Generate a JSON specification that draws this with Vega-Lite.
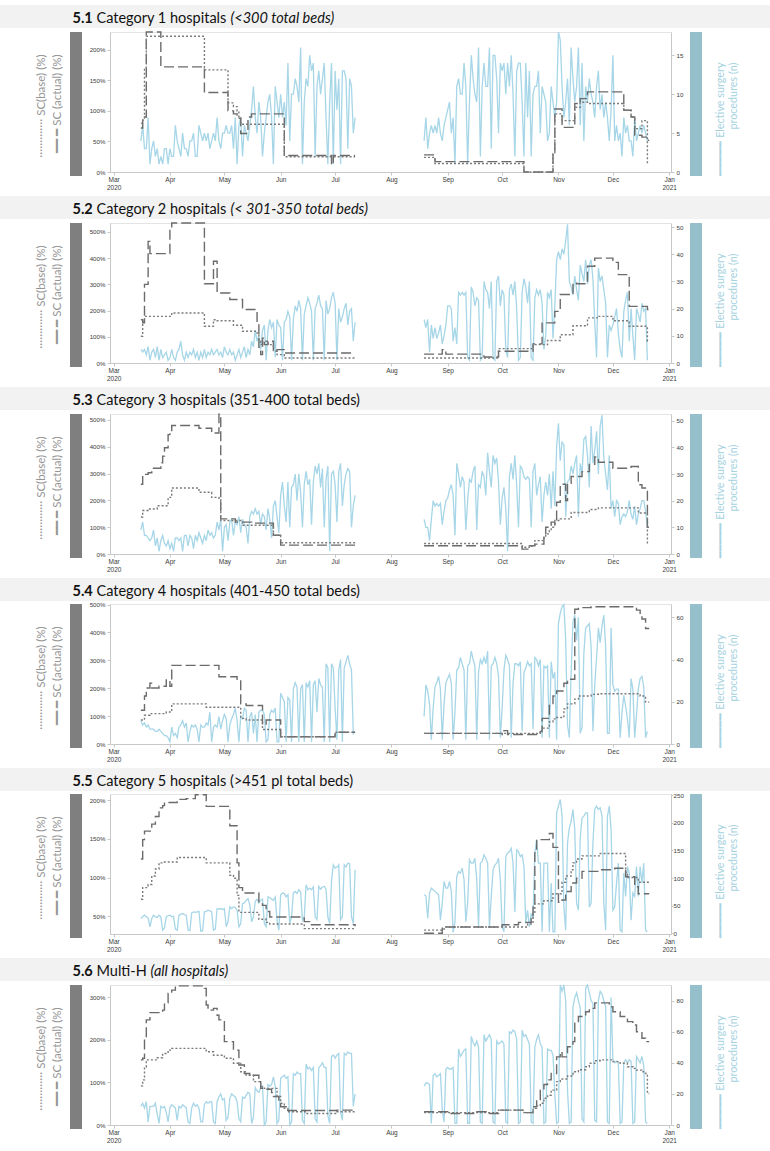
{
"$schema": "https://vega.github.io/schema/vega-lite/v6.json",
"background": "white",
"padding": {"left": 0, "top": 5, "right": 0, "bottom": 0},
"spacing": 5,
"config": {
  "view": {"stroke": null},
  "axis": {"grid": false, "labelFont": "Liberation Sans", "labelFontSize": 6.2, "labelColor": "#3c3c3c", "domainColor": "#c8c8c8", "tickColor": "#c8c8c8", "tickSize": 3, "labelPadding": 2},
  "line": {"strokeWidth": 1.4}
},
"datasets": {
"daily": [
{"d":"2020-03-16","s":1,"n1":4,"n2":5,"n3":9,"n4":11,"n5":27,"n6":12},
{"d":"2020-03-17","s":1,"n1":6,"n2":4,"n3":12,"n4":9,"n5":30,"n6":14},
{"d":"2020-03-18","s":1,"n1":3,"n2":5,"n3":7,"n4":10,"n5":33,"n6":11},
{"d":"2020-03-19","s":1,"n1":3,"n2":3,"n3":7,"n4":8,"n5":30,"n6":15},
{"d":"2020-03-20","s":1,"n1":7,"n2":6,"n3":6,"n4":9,"n5":28,"n6":2},
{"d":"2020-03-21","s":1,"n1":1,"n2":1,"n3":5,"n4":7,"n5":12,"n6":12},
{"d":"2020-03-22","s":1,"n1":3,"n2":4,"n3":6,"n4":7,"n5":27,"n6":12},
{"d":"2020-03-23","s":1,"n1":4,"n2":5,"n3":9,"n4":7,"n5":33,"n6":12},
{"d":"2020-03-24","s":1,"n1":2,"n2":2,"n3":3,"n4":6,"n5":30,"n6":14},
{"d":"2020-03-25","s":1,"n1":3,"n2":6,"n3":6,"n4":6,"n5":29,"n6":7},
{"d":"2020-03-26","s":1,"n1":1,"n2":1,"n3":1,"n4":7,"n5":33,"n6":1},
{"d":"2020-03-27","s":1,"n1":2,"n2":5,"n3":5,"n4":6,"n5":30,"n6":12},
{"d":"2020-03-28","s":1,"n1":1,"n2":2,"n3":7,"n4":5,"n5":6,"n6":11},
{"d":"2020-03-29","s":1,"n1":3,"n2":3,"n3":4,"n4":4,"n5":10,"n6":12},
{"d":"2020-03-30","s":1,"n1":3,"n2":4,"n3":3,"n4":4,"n5":30,"n6":8},
{"d":"2020-03-31","s":1,"n1":1,"n2":1,"n3":5,"n4":3,"n5":32,"n6":2},
{"d":"2020-04-01","s":1,"n1":3,"n2":2,"n3":2,"n4":1,"n5":33,"n6":11},
{"d":"2020-04-02","s":1,"n1":2,"n2":5,"n3":4,"n4":8,"n5":30,"n6":13},
{"d":"2020-04-03","s":1,"n1":2,"n2":2,"n3":1,"n4":4,"n5":31,"n6":12},
{"d":"2020-04-04","s":1,"n1":6,"n2":1,"n3":6,"n4":5,"n5":8,"n6":11},
{"d":"2020-04-05","s":1,"n1":4,"n2":4,"n3":6,"n4":3,"n5":6,"n6":3},
{"d":"2020-04-06","s":1,"n1":3,"n2":5,"n3":5,"n4":8,"n5":33,"n6":12},
{"d":"2020-04-07","s":1,"n1":2,"n2":8,"n3":6,"n4":9,"n5":35,"n6":11},
{"d":"2020-04-08","s":1,"n1":5,"n2":3,"n3":1,"n4":11,"n5":36,"n6":13},
{"d":"2020-04-09","s":1,"n1":3,"n2":1,"n3":7,"n4":8,"n5":34,"n6":12},
{"d":"2020-04-10","s":1,"n1":3,"n2":4,"n3":7,"n4":10,"n5":33,"n6":11},
{"d":"2020-04-11","s":1,"n1":2,"n2":2,"n3":3,"n4":1,"n5":6,"n6":2},
{"d":"2020-04-12","s":1,"n1":4,"n2":4,"n3":7,"n4":6,"n5":5,"n6":1},
{"d":"2020-04-13","s":1,"n1":4,"n2":3,"n3":6,"n4":9,"n5":37,"n6":11},
{"d":"2020-04-14","s":1,"n1":5,"n2":5,"n3":2,"n4":8,"n5":39,"n6":14},
{"d":"2020-04-15","s":1,"n1":2,"n2":2,"n3":7,"n4":9,"n5":38,"n6":12},
{"d":"2020-04-16","s":1,"n1":2,"n2":4,"n3":5,"n4":7,"n5":39,"n6":13},
{"d":"2020-04-17","s":1,"n1":6,"n2":1,"n3":8,"n4":1,"n5":40,"n6":11},
{"d":"2020-04-18","s":1,"n1":5,"n2":4,"n3":6,"n4":9,"n5":4,"n6":2},
{"d":"2020-04-19","s":1,"n1":4,"n2":2,"n3":4,"n4":8,"n5":5,"n6":2},
{"d":"2020-04-20","s":1,"n1":5,"n2":5,"n3":7,"n4":8,"n5":39,"n6":13},
{"d":"2020-04-21","s":1,"n1":4,"n2":2,"n3":5,"n4":10,"n5":40,"n6":15},
{"d":"2020-04-22","s":1,"n1":5,"n2":4,"n3":9,"n4":9,"n5":42,"n6":14},
{"d":"2020-04-23","s":1,"n1":3,"n2":3,"n3":7,"n4":15,"n5":41,"n6":15},
{"d":"2020-04-24","s":1,"n1":4,"n2":5,"n3":8,"n4":1,"n5":39,"n6":15},
{"d":"2020-04-25","s":1,"n1":5,"n2":3,"n3":6,"n4":8,"n5":6,"n6":2},
{"d":"2020-04-26","s":1,"n1":4,"n2":4,"n3":7,"n4":9,"n5":8,"n6":1},
{"d":"2020-04-27","s":1,"n1":7,"n2":5,"n3":12,"n4":8,"n5":45,"n6":15},
{"d":"2020-04-28","s":1,"n1":4,"n2":3,"n3":9,"n4":13,"n5":44,"n6":18},
{"d":"2020-04-29","s":1,"n1":3,"n2":4,"n3":13,"n4":7,"n5":45,"n6":20},
{"d":"2020-04-30","s":1,"n1":5,"n2":2,"n3":1,"n4":11,"n5":43,"n6":16},
{"d":"2020-05-01","s":1,"n1":5,"n2":6,"n3":10,"n4":14,"n5":45,"n6":17},
{"d":"2020-05-02","s":1,"n1":6,"n2":4,"n3":11,"n4":12,"n5":12,"n6":3},
{"d":"2020-05-03","s":1,"n1":5,"n2":3,"n3":5,"n4":1,"n5":21,"n6":5},
{"d":"2020-05-04","s":1,"n1":5,"n2":5,"n3":12,"n4":9,"n5":48,"n6":17},
{"d":"2020-05-05","s":1,"n1":6,"n2":3,"n3":13,"n4":12,"n5":45,"n6":20},
{"d":"2020-05-06","s":1,"n1":3,"n2":4,"n3":7,"n4":14,"n5":48,"n6":19},
{"d":"2020-05-07","s":1,"n1":7,"n2":1,"n3":12,"n4":17,"n5":47,"n6":18},
{"d":"2020-05-08","s":1,"n1":1,"n2":3,"n3":11,"n4":11,"n5":42,"n6":15},
{"d":"2020-05-09","s":1,"n1":6,"n2":5,"n3":14,"n4":1,"n5":12,"n6":4},
{"d":"2020-05-10","s":1,"n1":7,"n2":2,"n3":8,"n4":13,"n5":18,"n6":2},
{"d":"2020-05-11","s":1,"n1":2,"n2":4,"n3":13,"n4":12,"n5":54,"n6":18},
{"d":"2020-05-12","s":1,"n1":6,"n2":6,"n3":11,"n4":17,"n5":55,"n6":17},
{"d":"2020-05-13","s":1,"n1":5,"n2":2,"n3":10,"n4":16,"n5":60,"n6":19},
{"d":"2020-05-14","s":1,"n1":4,"n2":5,"n3":4,"n4":1,"n5":63,"n6":21},
{"d":"2020-05-15","s":1,"n1":6,"n2":3,"n3":14,"n4":13,"n5":52,"n6":20},
{"d":"2020-05-16","s":1,"n1":8,"n2":8,"n3":16,"n4":15,"n5":21,"n6":1},
{"d":"2020-05-17","s":1,"n1":11,"n2":6,"n3":15,"n4":5,"n5":30,"n6":5},
{"d":"2020-05-18","s":1,"n1":7,"n2":12,"n3":17,"n4":14,"n5":58,"n6":24},
{"d":"2020-05-19","s":1,"n1":5,"n2":8,"n3":15,"n4":1,"n5":62,"n6":22},
{"d":"2020-05-20","s":1,"n1":9,"n2":10,"n3":16,"n4":15,"n5":55,"n6":21},
{"d":"2020-05-21","s":1,"n1":7,"n2":5,"n3":11,"n4":16,"n5":60,"n6":24},
{"d":"2020-05-22","s":1,"n1":2,"n2":12,"n3":15,"n4":16,"n5":62,"n6":25},
{"d":"2020-05-23","s":1,"n1":5,"n2":14,"n3":14,"n4":14,"n5":18,"n6":0},
{"d":"2020-05-24","s":1,"n1":7,"n2":1,"n3":9,"n4":1,"n5":12,"n6":2},
{"d":"2020-05-25","s":1,"n1":9,"n2":12,"n3":17,"n4":2,"n5":66,"n6":26},
{"d":"2020-05-26","s":1,"n1":10,"n2":16,"n3":13,"n4":14,"n5":65,"n6":25},
{"d":"2020-05-27","s":1,"n1":7,"n2":13,"n3":6,"n4":16,"n5":62,"n6":26},
{"d":"2020-05-28","s":1,"n1":1,"n2":15,"n3":18,"n4":15,"n5":60,"n6":31},
{"d":"2020-05-29","s":1,"n1":11,"n2":2,"n3":20,"n4":17,"n5":66,"n6":25},
{"d":"2020-05-30","s":1,"n1":9,"n2":16,"n3":14,"n4":1,"n5":24,"n6":1},
{"d":"2020-05-31","s":1,"n1":7,"n2":14,"n3":8,"n4":1,"n5":6,"n6":3},
{"d":"2020-06-01","s":1,"n1":10,"n2":13,"n3":22,"n4":24,"n5":70,"n6":30},
{"d":"2020-06-02","s":1,"n1":7,"n2":1,"n3":27,"n4":22,"n5":73,"n6":31},
{"d":"2020-06-03","s":1,"n1":9,"n2":15,"n3":18,"n4":20,"n5":72,"n6":32},
{"d":"2020-06-04","s":1,"n1":6,"n2":16,"n3":12,"n4":1,"n5":66,"n6":30},
{"d":"2020-06-05","s":1,"n1":14,"n2":19,"n3":27,"n4":22,"n5":70,"n6":31},
{"d":"2020-06-06","s":1,"n1":4,"n2":17,"n3":10,"n4":21,"n5":18,"n6":0},
{"d":"2020-06-07","s":1,"n1":10,"n2":1,"n3":25,"n4":1,"n5":30,"n6":2},
{"d":"2020-06-08","s":1,"n1":10,"n2":16,"n3":26,"n4":26,"n5":73,"n6":33},
{"d":"2020-06-09","s":1,"n1":12,"n2":21,"n3":30,"n4":29,"n5":76,"n6":32},
{"d":"2020-06-10","s":1,"n1":11,"n2":19,"n3":20,"n4":27,"n5":72,"n6":34},
{"d":"2020-06-11","s":1,"n1":9,"n2":23,"n3":30,"n4":1,"n5":79,"n6":33},
{"d":"2020-06-12","s":1,"n1":16,"n2":20,"n3":23,"n4":26,"n5":75,"n6":33},
{"d":"2020-06-13","s":1,"n1":1,"n2":1,"n3":10,"n4":28,"n5":24,"n6":3},
{"d":"2020-06-14","s":1,"n1":9,"n2":18,"n3":26,"n4":1,"n5":30,"n6":1},
{"d":"2020-06-15","s":1,"n1":12,"n2":21,"n3":31,"n4":29,"n5":88,"n6":39},
{"d":"2020-06-16","s":1,"n1":11,"n2":24,"n3":26,"n4":27,"n5":79,"n6":36},
{"d":"2020-06-17","s":1,"n1":15,"n2":22,"n3":28,"n4":30,"n5":82,"n6":37},
{"d":"2020-06-18","s":1,"n1":13,"n2":19,"n3":11,"n4":1,"n5":79,"n6":35},
{"d":"2020-06-19","s":1,"n1":14,"n2":1,"n3":27,"n4":28,"n5":84,"n6":37},
{"d":"2020-06-20","s":1,"n1":2,"n2":20,"n3":33,"n4":30,"n5":30,"n6":4},
{"d":"2020-06-21","s":1,"n1":11,"n2":22,"n3":30,"n4":15,"n5":25,"n6":2},
{"d":"2020-06-22","s":1,"n1":13,"n2":25,"n3":34,"n4":31,"n5":85,"n6":37},
{"d":"2020-06-23","s":1,"n1":10,"n2":21,"n3":25,"n4":28,"n5":80,"n6":38},
{"d":"2020-06-24","s":1,"n1":12,"n2":20,"n3":32,"n4":27,"n5":84,"n6":40},
{"d":"2020-06-25","s":1,"n1":14,"n2":1,"n3":10,"n4":1,"n5":85,"n6":37},
{"d":"2020-06-26","s":1,"n1":7,"n2":23,"n3":28,"n4":38,"n5":80,"n6":37},
{"d":"2020-06-27","s":1,"n1":1,"n2":18,"n3":33,"n4":36,"n5":30,"n6":6},
{"d":"2020-06-28","s":1,"n1":9,"n2":20,"n3":1,"n4":1,"n5":18,"n6":1},
{"d":"2020-06-29","s":1,"n1":14,"n2":24,"n3":30,"n4":38,"n5":94,"n6":44},
{"d":"2020-06-30","s":1,"n1":1,"n2":26,"n3":31,"n4":36,"n5":124,"n6":45},
{"d":"2020-07-01","s":1,"n1":13,"n2":22,"n3":26,"n4":17,"n5":118,"n6":43},
{"d":"2020-07-02","s":1,"n1":8,"n2":1,"n3":12,"n4":2,"n5":120,"n6":45},
{"d":"2020-07-03","s":1,"n1":12,"n2":20,"n3":31,"n4":35,"n5":124,"n6":46},
{"d":"2020-07-04","s":1,"n1":1,"n2":15,"n3":34,"n4":40,"n5":25,"n6":8},
{"d":"2020-07-05","s":1,"n1":13,"n2":17,"n3":18,"n4":1,"n5":30,"n6":3},
{"d":"2020-07-06","s":1,"n1":13,"n2":20,"n3":26,"n4":36,"n5":124,"n6":46},
{"d":"2020-07-07","s":1,"n1":12,"n2":22,"n3":30,"n4":39,"n5":120,"n6":45},
{"d":"2020-07-08","s":1,"n1":3,"n2":14,"n3":32,"n4":42,"n5":127,"n6":47},
{"d":"2020-07-09","s":1,"n1":12,"n2":19,"n3":31,"n4":38,"n5":126,"n6":46},
{"d":"2020-07-10","s":1,"n1":11,"n2":20,"n3":10,"n4":35,"n5":30,"n6":46},
{"d":"2020-07-11","s":1,"n1":5,"n2":8,"n3":18,"n4":5,"n5":18,"n6":12},
{"d":"2020-07-12","s":1,"n1":7,"n2":15,"n3":22,"n4":6,"n5":115,"n6":20},
{"d":"2020-08-19","s":2,"n1":4,"n2":16,"n3":13,"n4":13,"n5":70,"n6":25},
{"d":"2020-08-20","s":2,"n1":7,"n2":13,"n3":10,"n4":28,"n5":68,"n6":27},
{"d":"2020-08-21","s":2,"n1":3,"n2":16,"n3":10,"n4":25,"n5":27,"n6":27},
{"d":"2020-08-22","s":2,"n1":5,"n2":4,"n3":5,"n4":19,"n5":73,"n6":26},
{"d":"2020-08-23","s":2,"n1":6,"n2":14,"n3":13,"n4":2,"n5":82,"n6":1},
{"d":"2020-08-24","s":2,"n1":5,"n2":9,"n3":20,"n4":17,"n5":79,"n6":32},
{"d":"2020-08-25","s":2,"n1":6,"n2":13,"n3":18,"n4":27,"n5":76,"n6":33},
{"d":"2020-08-26","s":2,"n1":5,"n2":9,"n3":19,"n4":29,"n5":73,"n6":31},
{"d":"2020-08-27","s":2,"n1":7,"n2":11,"n3":18,"n4":32,"n5":70,"n6":32},
{"d":"2020-08-28","s":2,"n1":5,"n2":14,"n3":19,"n4":26,"n5":24,"n6":33},
{"d":"2020-08-29","s":2,"n1":4,"n2":7,"n3":11,"n4":2,"n5":55,"n6":10},
{"d":"2020-08-30","s":2,"n1":6,"n2":10,"n3":16,"n4":19,"n5":94,"n6":2},
{"d":"2020-08-31","s":2,"n1":7,"n2":14,"n3":20,"n4":29,"n5":82,"n6":36},
{"d":"2020-09-01","s":2,"n1":8,"n2":21,"n3":21,"n4":31,"n5":82,"n6":37},
{"d":"2020-09-02","s":2,"n1":9,"n2":21,"n3":24,"n4":33,"n5":94,"n6":36},
{"d":"2020-09-03","s":2,"n1":5,"n2":20,"n3":26,"n4":29,"n5":76,"n6":36},
{"d":"2020-09-04","s":2,"n1":7,"n2":8,"n3":22,"n4":2,"n5":2,"n6":37},
{"d":"2020-09-05","s":2,"n1":1,"n2":13,"n3":7,"n4":15,"n5":21,"n6":1},
{"d":"2020-09-06","s":2,"n1":11,"n2":7,"n3":34,"n4":35,"n5":103,"n6":1},
{"d":"2020-09-07","s":2,"n1":12,"n2":26,"n3":30,"n4":36,"n5":112,"n6":49},
{"d":"2020-09-08","s":2,"n1":10,"n2":25,"n3":25,"n4":41,"n5":109,"n6":44},
{"d":"2020-09-09","s":2,"n1":10,"n2":26,"n3":29,"n4":38,"n5":118,"n6":46},
{"d":"2020-09-10","s":2,"n1":14,"n2":25,"n3":27,"n4":35,"n5":97,"n6":48},
{"d":"2020-09-11","s":2,"n1":11,"n2":26,"n3":9,"n4":2,"n5":21,"n6":49},
{"d":"2020-09-12","s":2,"n1":1,"n2":2,"n3":20,"n4":37,"n5":55,"n6":1},
{"d":"2020-09-13","s":2,"n1":9,"n2":1,"n3":28,"n4":38,"n5":133,"n6":1},
{"d":"2020-09-14","s":2,"n1":15,"n2":28,"n3":27,"n4":44,"n5":127,"n6":57},
{"d":"2020-09-15","s":2,"n1":12,"n2":26,"n3":31,"n4":40,"n5":127,"n6":53},
{"d":"2020-09-16","s":2,"n1":10,"n2":21,"n3":33,"n4":37,"n5":136,"n6":51},
{"d":"2020-09-17","s":2,"n1":9,"n2":24,"n3":9,"n4":2,"n5":97,"n6":54},
{"d":"2020-09-18","s":2,"n1":16,"n2":23,"n3":26,"n4":34,"n5":12,"n6":50},
{"d":"2020-09-19","s":2,"n1":2,"n2":1,"n3":25,"n4":40,"n5":127,"n6":2},
{"d":"2020-09-20","s":2,"n1":11,"n2":2,"n3":31,"n4":38,"n5":130,"n6":1},
{"d":"2020-09-21","s":2,"n1":14,"n2":30,"n3":29,"n4":41,"n5":142,"n6":58},
{"d":"2020-09-22","s":2,"n1":11,"n2":27,"n3":22,"n4":38,"n5":136,"n6":54},
{"d":"2020-09-23","s":2,"n1":11,"n2":26,"n3":38,"n4":44,"n5":127,"n6":56},
{"d":"2020-09-24","s":2,"n1":16,"n2":20,"n3":31,"n4":2,"n5":12,"n6":58},
{"d":"2020-09-25","s":2,"n1":3,"n2":30,"n3":25,"n4":37,"n5":67,"n6":55},
{"d":"2020-09-26","s":2,"n1":15,"n2":2,"n3":37,"n4":38,"n5":115,"n6":2},
{"d":"2020-09-27","s":2,"n1":15,"n2":1,"n3":34,"n4":41,"n5":124,"n6":1},
{"d":"2020-09-28","s":2,"n1":12,"n2":30,"n3":36,"n4":38,"n5":127,"n6":54},
{"d":"2020-09-29","s":2,"n1":5,"n2":32,"n3":27,"n4":32,"n5":136,"n6":52},
{"d":"2020-09-30","s":2,"n1":14,"n2":21,"n3":11,"n4":3,"n5":97,"n6":53},
{"d":"2020-10-01","s":2,"n1":13,"n2":27,"n3":21,"n4":17,"n5":12,"n6":54},
{"d":"2020-10-02","s":2,"n1":14,"n2":25,"n3":25,"n4":35,"n5":3,"n6":52},
{"d":"2020-10-03","s":2,"n1":10,"n2":5,"n3":17,"n4":42,"n5":139,"n6":2},
{"d":"2020-10-04","s":2,"n1":14,"n2":2,"n3":1,"n4":40,"n5":145,"n6":1},
{"d":"2020-10-05","s":2,"n1":11,"n2":27,"n3":29,"n4":37,"n5":148,"n6":60},
{"d":"2020-10-06","s":2,"n1":15,"n2":29,"n3":34,"n4":3,"n5":154,"n6":59},
{"d":"2020-10-07","s":2,"n1":10,"n2":25,"n3":28,"n4":29,"n5":127,"n6":61},
{"d":"2020-10-08","s":2,"n1":2,"n2":30,"n3":37,"n4":38,"n5":39,"n6":60},
{"d":"2020-10-09","s":2,"n1":13,"n2":20,"n3":26,"n4":38,"n5":151,"n6":55},
{"d":"2020-10-10","s":2,"n1":14,"n2":1,"n3":10,"n4":37,"n5":148,"n6":1},
{"d":"2020-10-11","s":2,"n1":14,"n2":2,"n3":33,"n4":39,"n5":139,"n6":2},
{"d":"2020-10-12","s":2,"n1":9,"n2":26,"n3":32,"n4":6,"n5":142,"n6":61},
{"d":"2020-10-13","s":2,"n1":2,"n2":31,"n3":29,"n4":34,"n5":121,"n6":57},
{"d":"2020-10-14","s":2,"n1":14,"n2":28,"n3":28,"n4":36,"n5":18,"n6":58},
{"d":"2020-10-15","s":2,"n1":7,"n2":22,"n3":29,"n4":39,"n5":42,"n6":55},
{"d":"2020-10-16","s":2,"n1":13,"n2":30,"n3":28,"n4":37,"n5":12,"n6":52},
{"d":"2020-10-17","s":2,"n1":2,"n2":2,"n3":10,"n4":38,"n5":36,"n6":2},
{"d":"2020-10-18","s":2,"n1":10,"n2":1,"n3":31,"n4":7,"n5":27,"n6":1},
{"d":"2020-10-19","s":2,"n1":11,"n2":24,"n3":34,"n4":41,"n5":145,"n6":50},
{"d":"2020-10-20","s":2,"n1":11,"n2":27,"n3":22,"n4":40,"n5":169,"n6":55},
{"d":"2020-10-21","s":2,"n1":13,"n2":25,"n3":26,"n4":37,"n5":127,"n6":58},
{"d":"2020-10-22","s":2,"n1":5,"n2":27,"n3":29,"n4":40,"n5":127,"n6":52},
{"d":"2020-10-23","s":2,"n1":11,"n2":22,"n3":12,"n4":3,"n5":3,"n6":50},
{"d":"2020-10-24","s":2,"n1":10,"n2":5,"n3":22,"n4":37,"n5":127,"n6":1},
{"d":"2020-10-25","s":2,"n1":9,"n2":10,"n3":27,"n4":36,"n5":127,"n6":2},
{"d":"2020-10-26","s":2,"n1":4,"n2":26,"n3":22,"n4":37,"n5":127,"n6":49},
{"d":"2020-10-27","s":2,"n1":5,"n2":24,"n3":30,"n4":3,"n5":3,"n6":48},
{"d":"2020-10-28","s":2,"n1":11,"n2":27,"n3":17,"n4":39,"n5":91,"n6":48},
{"d":"2020-10-29","s":2,"n1":9,"n2":9,"n3":31,"n4":31,"n5":3,"n6":45},
{"d":"2020-10-30","s":2,"n1":7,"n2":21,"n3":18,"n4":34,"n5":3,"n6":20},
{"d":"2020-10-31","s":2,"n1":9,"n2":38,"n3":40,"n4":2,"n5":218,"n6":1},
{"d":"2020-11-01","s":2,"n1":18,"n2":41,"n3":49,"n4":57,"n5":230,"n6":2},
{"d":"2020-11-02","s":2,"n1":17,"n2":38,"n3":35,"n4":62,"n5":242,"n6":90},
{"d":"2020-11-03","s":2,"n1":11,"n2":42,"n3":42,"n4":65,"n5":212,"n6":86},
{"d":"2020-11-04","s":2,"n1":7,"n2":40,"n3":41,"n4":66,"n5":48,"n6":90},
{"d":"2020-11-05","s":2,"n1":9,"n2":45,"n3":14,"n4":49,"n5":6,"n6":80},
{"d":"2020-11-06","s":2,"n1":12,"n2":51,"n3":27,"n4":9,"n5":164,"n6":22},
{"d":"2020-11-07","s":2,"n1":6,"n2":30,"n3":28,"n4":3,"n5":191,"n6":1},
{"d":"2020-11-08","s":2,"n1":16,"n2":28,"n3":33,"n4":34,"n5":203,"n6":2},
{"d":"2020-11-09","s":2,"n1":12,"n2":25,"n3":30,"n4":58,"n5":224,"n6":76},
{"d":"2020-11-10","s":2,"n1":9,"n2":32,"n3":34,"n4":61,"n5":188,"n6":82},
{"d":"2020-11-11","s":2,"n1":11,"n2":27,"n3":37,"n4":49,"n5":55,"n6":85},
{"d":"2020-11-12","s":2,"n1":16,"n2":23,"n3":14,"n4":60,"n5":42,"n6":80},
{"d":"2020-11-13","s":2,"n1":6,"n2":36,"n3":34,"n4":5,"n5":173,"n6":75},
{"d":"2020-11-14","s":2,"n1":14,"n2":33,"n3":30,"n4":8,"n5":209,"n6":4},
{"d":"2020-11-15","s":2,"n1":4,"n2":30,"n3":43,"n4":43,"n5":212,"n6":2},
{"d":"2020-11-16","s":2,"n1":11,"n2":38,"n3":44,"n4":55,"n5":218,"n6":88},
{"d":"2020-11-17","s":2,"n1":9,"n2":29,"n3":37,"n4":56,"n5":218,"n6":90},
{"d":"2020-11-18","s":2,"n1":12,"n2":36,"n3":25,"n4":57,"n5":48,"n6":85},
{"d":"2020-11-19","s":2,"n1":10,"n2":38,"n3":48,"n4":46,"n5":55,"n6":80},
{"d":"2020-11-20","s":2,"n1":9,"n2":31,"n3":34,"n4":6,"n5":164,"n6":78},
{"d":"2020-11-21","s":2,"n1":7,"n2":15,"n3":39,"n4":28,"n5":224,"n6":3},
{"d":"2020-11-22","s":2,"n1":11,"n2":2,"n3":46,"n4":41,"n5":230,"n6":2},
{"d":"2020-11-23","s":2,"n1":13,"n2":35,"n3":30,"n4":55,"n5":224,"n6":80},
{"d":"2020-11-24","s":2,"n1":8,"n2":30,"n3":48,"n4":48,"n5":227,"n6":86},
{"d":"2020-11-25","s":2,"n1":10,"n2":32,"n3":52,"n4":56,"n5":212,"n6":84},
{"d":"2020-11-26","s":2,"n1":7,"n2":27,"n3":36,"n4":61,"n5":55,"n6":80},
{"d":"2020-11-27","s":2,"n1":9,"n2":22,"n3":30,"n4":46,"n5":6,"n6":76},
{"d":"2020-11-28","s":2,"n1":7,"n2":2,"n3":24,"n4":5,"n5":212,"n6":2},
{"d":"2020-11-29","s":2,"n1":4,"n2":14,"n3":37,"n4":5,"n5":230,"n6":1},
{"d":"2020-11-30","s":2,"n1":8,"n2":12,"n3":17,"n4":55,"n5":188,"n6":82},
{"d":"2020-12-01","s":2,"n1":15,"n2":14,"n3":20,"n4":28,"n5":42,"n6":42},
{"d":"2020-12-02","s":2,"n1":4,"n2":17,"n3":14,"n4":25,"n5":48,"n6":40},
{"d":"2020-12-03","s":2,"n1":6,"n2":20,"n3":20,"n4":26,"n5":91,"n6":41},
{"d":"2020-12-04","s":2,"n1":4,"n2":11,"n3":19,"n4":26,"n5":127,"n6":40},
{"d":"2020-12-05","s":2,"n1":5,"n2":5,"n3":11,"n4":3,"n5":6,"n6":1},
{"d":"2020-12-06","s":2,"n1":2,"n2":2,"n3":14,"n4":15,"n5":3,"n6":2},
{"d":"2020-12-07","s":2,"n1":7,"n2":19,"n3":15,"n4":23,"n5":109,"n6":40},
{"d":"2020-12-08","s":2,"n1":5,"n2":23,"n3":14,"n4":18,"n5":67,"n6":42},
{"d":"2020-12-09","s":2,"n1":6,"n2":26,"n3":16,"n4":12,"n5":121,"n6":40},
{"d":"2020-12-10","s":2,"n1":4,"n2":8,"n3":20,"n4":3,"n5":109,"n6":42},
{"d":"2020-12-11","s":2,"n1":4,"n2":20,"n3":15,"n4":31,"n5":24,"n6":41},
{"d":"2020-12-12","s":2,"n1":2,"n2":10,"n3":13,"n4":26,"n5":73,"n6":1},
{"d":"2020-12-13","s":2,"n1":7,"n2":1,"n3":18,"n4":3,"n5":67,"n6":2},
{"d":"2020-12-14","s":2,"n1":4,"n2":20,"n3":11,"n4":14,"n5":121,"n6":44},
{"d":"2020-12-15","s":2,"n1":5,"n2":18,"n3":15,"n4":26,"n5":67,"n6":42},
{"d":"2020-12-16","s":2,"n1":6,"n2":15,"n3":17,"n4":31,"n5":121,"n6":40},
{"d":"2020-12-17","s":2,"n1":5,"n2":22,"n3":20,"n4":32,"n5":91,"n6":44},
{"d":"2020-12-18","s":2,"n1":6,"n2":19,"n3":20,"n4":27,"n5":127,"n6":38},
{"d":"2020-12-19","s":2,"n1":5,"n2":20,"n3":16,"n4":3,"n5":6,"n6":2},
{"d":"2020-12-20","s":2,"n1":4,"n2":1,"n3":10,"n4":6,"n5":3,"n6":1}
],
"sc": [
{"p":1,"s":1,"d":"2020-03-16","a":72,"b":80},{"p":1,"s":1,"d":"2020-03-17","a":90,"b":85},{"p":1,"s":1,"d":"2020-03-18","a":90,"b":170},{"p":1,"s":1,"d":"2020-03-19","a":229,"b":222},{"p":1,"s":1,"d":"2020-03-27","a":172,"b":222},{"p":1,"s":1,"d":"2020-04-20","a":130,"b":167},{"p":1,"s":1,"d":"2020-05-03","a":100,"b":113},{"p":1,"s":1,"d":"2020-05-06","a":95,"b":107},{"p":1,"s":1,"d":"2020-05-08","a":88,"b":100},{"p":1,"s":1,"d":"2020-05-09","a":88,"b":90},{"p":1,"s":1,"d":"2020-05-10","a":63,"b":78},{"p":1,"s":1,"d":"2020-05-14","a":90,"b":78},{"p":1,"s":1,"d":"2020-05-16","a":95,"b":78},{"p":1,"s":1,"d":"2020-06-03","a":27,"b":25},{"p":1,"s":1,"d":"2020-06-29","a":12,"b":25},{"p":1,"s":1,"d":"2020-06-30","a":27,"b":25},{"p":1,"s":1,"d":"2020-07-12","a":27,"b":25},
{"p":1,"s":2,"d":"2020-08-19","a":28,"b":24},{"p":1,"s":2,"d":"2020-08-25","a":17,"b":14},{"p":1,"s":2,"d":"2020-10-13","a":0,"b":0},{"p":1,"s":2,"d":"2020-10-29","a":30,"b":30},{"p":1,"s":2,"d":"2020-10-30","a":103,"b":95},{"p":1,"s":2,"d":"2020-11-03","a":73,"b":84},{"p":1,"s":2,"d":"2020-11-10","a":112,"b":106},{"p":1,"s":2,"d":"2020-11-13","a":120,"b":114},{"p":1,"s":2,"d":"2020-11-17","a":131,"b":112},{"p":1,"s":2,"d":"2020-12-07","a":101,"b":101},{"p":1,"s":2,"d":"2020-12-11","a":90,"b":90},{"p":1,"s":2,"d":"2020-12-13","a":60,"b":71},{"p":1,"s":2,"d":"2020-12-17","a":57,"b":84},{"p":1,"s":2,"d":"2020-12-20","a":52,"b":14},{"p":1,"s":2,"d":"2020-12-21","a":52,"b":14},
{"p":2,"s":1,"d":"2020-03-16","a":165,"b":102},{"p":2,"s":1,"d":"2020-03-17","a":153,"b":159},{"p":2,"s":1,"d":"2020-03-18","a":300,"b":178},{"p":2,"s":1,"d":"2020-03-20","a":464,"b":178},{"p":2,"s":1,"d":"2020-03-21","a":417,"b":178},{"p":2,"s":1,"d":"2020-04-01","a":509,"b":178},{"p":2,"s":1,"d":"2020-04-02","a":534,"b":191},{"p":2,"s":1,"d":"2020-04-20","a":302,"b":140},{"p":2,"s":1,"d":"2020-04-25","a":388,"b":165},{"p":2,"s":1,"d":"2020-04-27","a":267,"b":161},{"p":2,"s":1,"d":"2020-05-04","a":242,"b":161},{"p":2,"s":1,"d":"2020-05-06","a":242,"b":144},{"p":2,"s":1,"d":"2020-05-11","a":204,"b":121},{"p":2,"s":1,"d":"2020-05-19","a":153,"b":114},{"p":2,"s":1,"d":"2020-05-20","a":60,"b":90},{"p":2,"s":1,"d":"2020-05-21","a":32,"b":70},{"p":2,"s":1,"d":"2020-05-22","a":95,"b":83},{"p":2,"s":1,"d":"2020-05-23","a":70,"b":83},{"p":2,"s":1,"d":"2020-05-25","a":83,"b":70},{"p":2,"s":1,"d":"2020-05-28","a":45,"b":45},{"p":2,"s":1,"d":"2020-05-30","a":51,"b":32},{"p":2,"s":1,"d":"2020-06-03","a":38,"b":19},{"p":2,"s":1,"d":"2020-07-12","a":38,"b":19},
{"p":2,"s":2,"d":"2020-08-19","a":34,"b":19},{"p":2,"s":2,"d":"2020-08-29","a":51,"b":19},{"p":2,"s":2,"d":"2020-08-31","a":34,"b":19},{"p":2,"s":2,"d":"2020-09-21","a":23,"b":19},{"p":2,"s":2,"d":"2020-09-29","a":45,"b":55},{"p":2,"s":2,"d":"2020-10-18","a":73,"b":70},{"p":2,"s":2,"d":"2020-10-23","a":153,"b":70},{"p":2,"s":2,"d":"2020-10-26","a":153,"b":86},{"p":2,"s":2,"d":"2020-10-30","a":197,"b":86},{"p":2,"s":2,"d":"2020-11-02","a":261,"b":108},{"p":2,"s":2,"d":"2020-11-09","a":305,"b":142},{"p":2,"s":2,"d":"2020-11-11","a":302,"b":142},{"p":2,"s":2,"d":"2020-11-17","a":369,"b":172},{"p":2,"s":2,"d":"2020-11-21","a":400,"b":172},{"p":2,"s":2,"d":"2020-11-23","a":400,"b":178},{"p":2,"s":2,"d":"2020-12-01","a":384,"b":161},{"p":2,"s":2,"d":"2020-12-04","a":337,"b":161},{"p":2,"s":2,"d":"2020-12-10","a":216,"b":140},{"p":2,"s":2,"d":"2020-12-20","a":204,"b":83},{"p":2,"s":2,"d":"2020-12-21","a":204,"b":83},
{"p":3,"s":1,"d":"2020-03-16","a":260,"b":138},{"p":3,"s":1,"d":"2020-03-17","a":297,"b":162},{"p":3,"s":1,"d":"2020-03-20","a":303,"b":168},{"p":3,"s":1,"d":"2020-03-22","a":320,"b":168},{"p":3,"s":1,"d":"2020-03-25","a":320,"b":180},{"p":3,"s":1,"d":"2020-03-27","a":340,"b":180},{"p":3,"s":1,"d":"2020-03-28","a":365,"b":180},{"p":3,"s":1,"d":"2020-03-29","a":396,"b":180},{"p":3,"s":1,"d":"2020-03-31","a":445,"b":211},{"p":3,"s":1,"d":"2020-04-01","a":457,"b":211},{"p":3,"s":1,"d":"2020-04-02","a":479,"b":246},{"p":3,"s":1,"d":"2020-04-17","a":469,"b":230},{"p":3,"s":1,"d":"2020-04-24","a":451,"b":211},{"p":3,"s":1,"d":"2020-04-28","a":521,"b":205},{"p":3,"s":1,"d":"2020-04-29","a":131,"b":125},{"p":3,"s":1,"d":"2020-05-07","a":119,"b":125},{"p":3,"s":1,"d":"2020-05-11","a":119,"b":107},{"p":3,"s":1,"d":"2020-05-16","a":115,"b":107},{"p":3,"s":1,"d":"2020-05-28","a":70,"b":70},{"p":3,"s":1,"d":"2020-06-01","a":33,"b":42},{"p":3,"s":1,"d":"2020-07-12","a":33,"b":42},
{"p":3,"s":2,"d":"2020-08-19","a":31,"b":39},{"p":3,"s":2,"d":"2020-10-12","a":18,"b":25},{"p":3,"s":2,"d":"2020-10-16","a":31,"b":30},{"p":3,"s":2,"d":"2020-10-19","a":37,"b":50},{"p":3,"s":2,"d":"2020-10-24","a":70,"b":60},{"p":3,"s":2,"d":"2020-10-25","a":100,"b":75},{"p":3,"s":2,"d":"2020-10-27","a":100,"b":88},{"p":3,"s":2,"d":"2020-10-28","a":119,"b":100},{"p":3,"s":2,"d":"2020-10-30","a":113,"b":125},{"p":3,"s":2,"d":"2020-10-31","a":193,"b":125},{"p":3,"s":2,"d":"2020-11-02","a":260,"b":131},{"p":3,"s":2,"d":"2020-11-05","a":199,"b":131},{"p":3,"s":2,"d":"2020-11-06","a":264,"b":131},{"p":3,"s":2,"d":"2020-11-08","a":289,"b":155},{"p":3,"s":2,"d":"2020-11-14","a":307,"b":155},{"p":3,"s":2,"d":"2020-11-18","a":334,"b":166},{"p":3,"s":2,"d":"2020-11-21","a":362,"b":166},{"p":3,"s":2,"d":"2020-11-23","a":342,"b":172},{"p":3,"s":2,"d":"2020-12-01","a":320,"b":172},{"p":3,"s":2,"d":"2020-12-11","a":326,"b":172},{"p":3,"s":2,"d":"2020-12-15","a":258,"b":153},{"p":3,"s":2,"d":"2020-12-17","a":246,"b":153},{"p":3,"s":2,"d":"2020-12-20","a":100,"b":39},{"p":3,"s":2,"d":"2020-12-21","a":100,"b":39},
{"p":4,"s":1,"d":"2020-03-16","a":121,"b":86},{"p":4,"s":1,"d":"2020-03-18","a":172,"b":103},{"p":4,"s":1,"d":"2020-03-19","a":201,"b":103},{"p":4,"s":1,"d":"2020-03-21","a":218,"b":109},{"p":4,"s":1,"d":"2020-03-22","a":201,"b":109},{"p":4,"s":1,"d":"2020-03-26","a":207,"b":109},{"p":4,"s":1,"d":"2020-03-30","a":230,"b":115},{"p":4,"s":1,"d":"2020-04-01","a":207,"b":115},{"p":4,"s":1,"d":"2020-04-02","a":282,"b":144},{"p":4,"s":1,"d":"2020-04-21","a":282,"b":132},{"p":4,"s":1,"d":"2020-04-28","a":241,"b":132},{"p":4,"s":1,"d":"2020-05-08","a":232,"b":132},{"p":4,"s":1,"d":"2020-05-10","a":144,"b":92},{"p":4,"s":1,"d":"2020-05-13","a":138,"b":86},{"p":4,"s":1,"d":"2020-05-22","a":69,"b":52},{"p":4,"s":1,"d":"2020-05-24","a":86,"b":52},{"p":4,"s":1,"d":"2020-06-01","a":26,"b":26},{"p":4,"s":1,"d":"2020-07-01","a":42,"b":42},{"p":4,"s":1,"d":"2020-07-12","a":42,"b":42},
{"p":4,"s":2,"d":"2020-08-19","a":38,"b":38},{"p":4,"s":2,"d":"2020-10-01","a":34,"b":38},{"p":4,"s":2,"d":"2020-10-02","a":48,"b":38},{"p":4,"s":2,"d":"2020-10-04","a":34,"b":38},{"p":4,"s":2,"d":"2020-10-22","a":45,"b":45},{"p":4,"s":2,"d":"2020-10-23","a":92,"b":57},{"p":4,"s":2,"d":"2020-10-27","a":138,"b":80},{"p":4,"s":2,"d":"2020-10-29","a":172,"b":90},{"p":4,"s":2,"d":"2020-10-31","a":190,"b":95},{"p":4,"s":2,"d":"2020-11-04","a":218,"b":126},{"p":4,"s":2,"d":"2020-11-06","a":232,"b":144},{"p":4,"s":2,"d":"2020-11-10","a":483,"b":161},{"p":4,"s":2,"d":"2020-11-12","a":489,"b":172},{"p":4,"s":2,"d":"2020-11-19","a":492,"b":178},{"p":4,"s":2,"d":"2020-11-23","a":492,"b":180},{"p":4,"s":2,"d":"2020-12-14","a":480,"b":180},{"p":4,"s":2,"d":"2020-12-16","a":460,"b":172},{"p":4,"s":2,"d":"2020-12-17","a":448,"b":172},{"p":4,"s":2,"d":"2020-12-19","a":414,"b":150},{"p":4,"s":2,"d":"2020-12-21","a":414,"b":150},
{"p":5,"s":1,"d":"2020-03-16","a":124,"b":72},{"p":5,"s":1,"d":"2020-03-17","a":149,"b":87},{"p":5,"s":1,"d":"2020-03-18","a":160,"b":87},{"p":5,"s":1,"d":"2020-03-20","a":160,"b":91},{"p":5,"s":1,"d":"2020-03-22","a":169,"b":102},{"p":5,"s":1,"d":"2020-03-24","a":179,"b":111},{"p":5,"s":1,"d":"2020-03-26","a":190,"b":119},{"p":5,"s":1,"d":"2020-03-28","a":193,"b":119},{"p":5,"s":1,"d":"2020-03-29","a":197,"b":120},{"p":5,"s":1,"d":"2020-04-05","a":201,"b":126},{"p":5,"s":1,"d":"2020-04-10","a":202,"b":126},{"p":5,"s":1,"d":"2020-04-15","a":207,"b":126},{"p":5,"s":1,"d":"2020-04-21","a":192,"b":119},{"p":5,"s":1,"d":"2020-05-04","a":167,"b":103},{"p":5,"s":1,"d":"2020-05-06","a":167,"b":99},{"p":5,"s":1,"d":"2020-05-08","a":119,"b":77},{"p":5,"s":1,"d":"2020-05-09","a":87,"b":55},{"p":5,"s":1,"d":"2020-05-11","a":80,"b":55},{"p":5,"s":1,"d":"2020-05-20","a":66,"b":46},{"p":5,"s":1,"d":"2020-05-22","a":64,"b":46},{"p":5,"s":1,"d":"2020-05-24","a":56,"b":42},{"p":5,"s":1,"d":"2020-05-26","a":49,"b":40},{"p":5,"s":1,"d":"2020-06-14","a":43,"b":34},{"p":5,"s":1,"d":"2020-06-17","a":39,"b":34},{"p":5,"s":1,"d":"2020-07-12","a":37,"b":34},
{"p":5,"s":2,"d":"2020-08-19","a":28,"b":32},{"p":5,"s":2,"d":"2020-08-29","a":36,"b":32},{"p":5,"s":2,"d":"2020-08-30","a":36,"b":36},{"p":5,"s":2,"d":"2020-10-01","a":39,"b":36},{"p":5,"s":2,"d":"2020-10-10","a":42,"b":36},{"p":5,"s":2,"d":"2020-10-15","a":42,"b":40},{"p":5,"s":2,"d":"2020-10-17","a":47,"b":40},{"p":5,"s":2,"d":"2020-10-18","a":62,"b":55},{"p":5,"s":2,"d":"2020-10-19","a":135,"b":66},{"p":5,"s":2,"d":"2020-10-20","a":149,"b":66},{"p":5,"s":2,"d":"2020-10-24","a":149,"b":70},{"p":5,"s":2,"d":"2020-10-27","a":157,"b":70},{"p":5,"s":2,"d":"2020-10-29","a":139,"b":79},{"p":5,"s":2,"d":"2020-11-01","a":68,"b":79},{"p":5,"s":2,"d":"2020-11-03","a":71,"b":94},{"p":5,"s":2,"d":"2020-11-05","a":82,"b":102},{"p":5,"s":2,"d":"2020-11-08","a":93,"b":110},{"p":5,"s":2,"d":"2020-11-09","a":93,"b":119},{"p":5,"s":2,"d":"2020-11-11","a":99,"b":124},{"p":5,"s":2,"d":"2020-11-14","a":108,"b":128},{"p":5,"s":2,"d":"2020-11-24","a":110,"b":131},{"p":5,"s":2,"d":"2020-12-02","a":112,"b":131},{"p":5,"s":2,"d":"2020-12-08","a":101,"b":107},{"p":5,"s":2,"d":"2020-12-09","a":101,"b":100},{"p":5,"s":2,"d":"2020-12-13","a":88,"b":100},{"p":5,"s":2,"d":"2020-12-15","a":79,"b":94},{"p":5,"s":2,"d":"2020-12-21","a":79,"b":94},
{"p":6,"s":1,"d":"2020-03-16","a":153,"b":92},{"p":6,"s":1,"d":"2020-03-17","a":157,"b":106},{"p":6,"s":1,"d":"2020-03-18","a":204,"b":137},{"p":6,"s":1,"d":"2020-03-19","a":247,"b":153},{"p":6,"s":1,"d":"2020-03-21","a":264,"b":153},{"p":6,"s":1,"d":"2020-03-25","a":264,"b":158},{"p":6,"s":1,"d":"2020-03-28","a":270,"b":168},{"p":6,"s":1,"d":"2020-03-29","a":287,"b":168},{"p":6,"s":1,"d":"2020-03-31","a":309,"b":176},{"p":6,"s":1,"d":"2020-04-02","a":317,"b":180},{"p":6,"s":1,"d":"2020-04-04","a":327,"b":180},{"p":6,"s":1,"d":"2020-04-20","a":321,"b":180},{"p":6,"s":1,"d":"2020-04-21","a":282,"b":172},{"p":6,"s":1,"d":"2020-04-22","a":270,"b":172},{"p":6,"s":1,"d":"2020-04-25","a":274,"b":164},{"p":6,"s":1,"d":"2020-04-27","a":258,"b":164},{"p":6,"s":1,"d":"2020-04-28","a":247,"b":164},{"p":6,"s":1,"d":"2020-05-01","a":196,"b":157},{"p":6,"s":1,"d":"2020-05-06","a":176,"b":145},{"p":6,"s":1,"d":"2020-05-09","a":141,"b":145},{"p":6,"s":1,"d":"2020-05-10","a":141,"b":125},{"p":6,"s":1,"d":"2020-05-12","a":121,"b":125},{"p":6,"s":1,"d":"2020-05-13","a":121,"b":117},{"p":6,"s":1,"d":"2020-05-15","a":115,"b":117},{"p":6,"s":1,"d":"2020-05-17","a":117,"b":102},{"p":6,"s":1,"d":"2020-05-20","a":110,"b":102},{"p":6,"s":1,"d":"2020-05-21","a":86,"b":90},{"p":6,"s":1,"d":"2020-05-23","a":84,"b":86},{"p":6,"s":1,"d":"2020-05-27","a":76,"b":86},{"p":6,"s":1,"d":"2020-05-28","a":67,"b":86},{"p":6,"s":1,"d":"2020-05-30","a":67,"b":67},{"p":6,"s":1,"d":"2020-05-31","a":55,"b":67},{"p":6,"s":1,"d":"2020-06-01","a":43,"b":51},{"p":6,"s":1,"d":"2020-06-03","a":43,"b":39},{"p":6,"s":1,"d":"2020-06-04","a":34,"b":39},{"p":6,"s":1,"d":"2020-06-05","a":34,"b":31},{"p":6,"s":1,"d":"2020-06-15","a":34,"b":27},{"p":6,"s":1,"d":"2020-07-02","a":35,"b":31},{"p":6,"s":1,"d":"2020-07-12","a":35,"b":31},
{"p":6,"s":2,"d":"2020-08-19","a":31,"b":29},{"p":6,"s":2,"d":"2020-09-01","a":27,"b":29},{"p":6,"s":2,"d":"2020-09-17","a":31,"b":29},{"p":6,"s":2,"d":"2020-09-24","a":27,"b":29},{"p":6,"s":2,"d":"2020-09-29","a":35,"b":35},{"p":6,"s":2,"d":"2020-10-13","a":29,"b":29},{"p":6,"s":2,"d":"2020-10-18","a":43,"b":39},{"p":6,"s":2,"d":"2020-10-20","a":59,"b":45},{"p":6,"s":2,"d":"2020-10-22","a":82,"b":51},{"p":6,"s":2,"d":"2020-10-24","a":95,"b":63},{"p":6,"s":2,"d":"2020-10-26","a":106,"b":70},{"p":6,"s":2,"d":"2020-10-28","a":121,"b":82},{"p":6,"s":2,"d":"2020-10-31","a":160,"b":102},{"p":6,"s":2,"d":"2020-11-02","a":172,"b":106},{"p":6,"s":2,"d":"2020-11-03","a":160,"b":108},{"p":6,"s":2,"d":"2020-11-06","a":184,"b":115},{"p":6,"s":2,"d":"2020-11-09","a":196,"b":121},{"p":6,"s":2,"d":"2020-11-10","a":239,"b":125},{"p":6,"s":2,"d":"2020-11-12","a":255,"b":130},{"p":6,"s":2,"d":"2020-11-16","a":266,"b":137},{"p":6,"s":2,"d":"2020-11-18","a":274,"b":145},{"p":6,"s":2,"d":"2020-11-21","a":287,"b":151},{"p":6,"s":2,"d":"2020-11-24","a":287,"b":153},{"p":6,"s":2,"d":"2020-11-29","a":278,"b":153},{"p":6,"s":2,"d":"2020-12-01","a":266,"b":149},{"p":6,"s":2,"d":"2020-12-05","a":255,"b":145},{"p":6,"s":2,"d":"2020-12-09","a":243,"b":137},{"p":6,"s":2,"d":"2020-12-12","a":235,"b":133},{"p":6,"s":2,"d":"2020-12-14","a":219,"b":129},{"p":6,"s":2,"d":"2020-12-17","a":204,"b":125},{"p":6,"s":2,"d":"2020-12-19","a":196,"b":121},{"p":6,"s":2,"d":"2020-12-20","a":196,"b":74},{"p":6,"s":2,"d":"2020-12-21","a":196,"b":74}
]
},
"vconcat": [
{"spacing": 0, "vconcat": [
  {"width": 770, "height": 23, "view": {"fill": "#f2f2f2", "stroke": null},
   "layer": [
    {"data": {"values": [{"h": 0}]}, "mark": {"type": "point", "opacity": 0},
     "encoding": {
      "x": {"field": "h", "type": "quantitative", "axis": {"orient": "top", "title": "5.1", "labels": false, "ticks": false, "domain": false, "titleX": 72, "titleY": 17, "titleAlign": "left", "titleBaseline": "alphabetic", "titleFont": "Lato", "titleFontSize": 14.5, "titleFontWeight": "bold", "titleColor": "#111111"}},
      "y": {"field": "h", "type": "quantitative", "axis": {"orient": "left", "title": "Category 1 hospitals", "labels": false, "ticks": false, "domain": false, "titleAngle": 0, "titleX": 96, "titleY": 17, "titleAlign": "left", "titleBaseline": "alphabetic", "titleFont": "Lato", "titleFontSize": 14.5, "titleFontWeight": "normal", "titleColor": "#111111"}}}},
    {"data": {"values": [{"h": 0}]}, "mark": {"type": "point", "opacity": 0},
     "encoding": {
      "y": {"field": "h", "type": "quantitative", "axis": {"orient": "right", "title": "(<300 total beds)", "labels": false, "ticks": false, "domain": false, "titleAngle": 0, "titleX": -540, "titleY": 17, "titleAlign": "left", "titleBaseline": "alphabetic", "titleFont": "Lato", "titleFontSize": 14.5, "titleFontWeight": "normal", "titleFontStyle": "italic", "titleColor": "#111111"}}}}
   ],
   "resolve": {"scale": {"y": "independent"}}},
  {"spacing": 6, "hconcat": [
    {"width": 29, "height": 144, "data": {"values": [{}]}, "mark": {"type": "point", "opacity": 0}, "encoding": {}},
    {"width": 12, "height": 144, "view": {"fill": "#7f7f7f", "stroke": null}, "data": {"values": [{"v": 0}]}, "mark": {"type": "point", "opacity": 0},
     "encoding": {"y": {"field": "v", "type": "quantitative", "axis": {"orient": "left", "title": ["············· SC(base) (%)", "━━ ━ SC (actual) (%)"], "labels": false, "ticks": false, "domain": false, "titleAngle": 270, "titleAlign": "right", "titleBaseline": "top", "titleX": -35, "titleY": 22, "titleFont": "Lato", "titleFontSize": 11.5, "titleFontWeight": "normal", "titleColor": "#969696", "titleLineHeight": 16}}}},
    {"width": 561, "height": 140, "view": {"stroke": "#e4e4e4"},
     "layer": [
      {"data": {"name": "daily"}, "mark": {"type": "line", "color": "#a6d6e7", "strokeWidth": 1.3},
       "encoding": {
        "x": {"field": "d", "type": "temporal", "scale": {"type": "utc", "domain": [{"year": 2020, "month": 2, "date": 28, "utc": true}, {"year": 2021, "month": 1, "date": 2, "utc": true}]},
              "axis": {"title": null, "values": [{"year":2020,"month":3,"date":1,"utc":true},{"year":2020,"month":4,"date":1,"utc":true},{"year":2020,"month":5,"date":1,"utc":true},{"year":2020,"month":6,"date":1,"utc":true},{"year":2020,"month":7,"date":1,"utc":true},{"year":2020,"month":8,"date":1,"utc":true},{"year":2020,"month":9,"date":1,"utc":true},{"year":2020,"month":10,"date":1,"utc":true},{"year":2020,"month":11,"date":1,"utc":true},{"year":2020,"month":12,"date":1,"utc":true},{"year":2021,"month":1,"date":1,"utc":true}],
                       "labelExpr": "utcmonth(datum.value) == 0 || (utcmonth(datum.value) == 2 && utcyear(datum.value) == 2020) ? [utcFormat(datum.value, '%b'), utcFormat(datum.value, '%Y')] : utcFormat(datum.value, '%b')", "labelFontSize": 6.5, "labelLineHeight": 8, "labelPadding": 1}},
        "y": {"field": "n1", "type": "quantitative", "scale": {"domain": [0, 18], "nice": false}, "axis": {"orient": "right", "title": null, "values": [0, 5, 10, 15]}},
        "detail": {"field": "s", "type": "nominal"}}},
      {"data": {"name": "sc"}, "transform": [{"filter": "datum.p == 1"}, {"fold": ["a", "b"], "as": ["k", "v"]}],
       "mark": {"type": "line", "interpolate": "step-after", "strokeWidth": 1.4},
       "encoding": {
        "x": {"field": "d", "type": "temporal"},
        "y": {"field": "v", "type": "quantitative", "scale": {"domain": [0, 229], "nice": false}, "axis": {"orient": "left", "title": null, "values": [0, 50, 100, 150, 200], "labelExpr": "datum.value + '%'"}},
        "strokeDash": {"field": "k", "type": "nominal", "scale": {"domain": ["a", "b"], "range": [[10, 4], [2, 2]]}, "legend": null},
        "color": {"field": "k", "type": "nominal", "scale": {"domain": ["a", "b"], "range": ["#6b6b6b", "#7a7a7a"]}, "legend": null},
        "detail": {"field": "s", "type": "nominal"}}}
     ],
     "resolve": {"scale": {"y": "independent"}}},
    {"width": 12, "height": 144, "view": {"fill": "#95bfcb", "stroke": null}, "data": {"values": [{"v": 0}]}, "mark": {"type": "point", "opacity": 0},
     "encoding": {"y": {"field": "v", "type": "quantitative", "axis": {"orient": "right", "title": ["━━━━━ Elective surgery", "procedures (n)"], "labels": false, "ticks": false, "domain": false, "titleAngle": 270, "titleAlign": "right", "titleBaseline": "top", "titleX": 12, "titleY": 30, "titleFont": "Lato", "titleFontSize": 10.8, "titleFontWeight": "normal", "titleColor": "#a6d2df", "titleLineHeight": 13}}}}
  ]}
]},
{"spacing": 0, "vconcat": [
  {"width": 770, "height": 23, "view": {"fill": "#f2f2f2", "stroke": null},
   "layer": [
    {"data": {"values": [{"h": 0}]}, "mark": {"type": "point", "opacity": 0},
     "encoding": {
      "x": {"field": "h", "type": "quantitative", "axis": {"orient": "top", "title": "5.2", "labels": false, "ticks": false, "domain": false, "titleX": 72, "titleY": 17, "titleAlign": "left", "titleBaseline": "alphabetic", "titleFont": "Lato", "titleFontSize": 14.5, "titleFontWeight": "bold", "titleColor": "#111111"}},
      "y": {"field": "h", "type": "quantitative", "axis": {"orient": "left", "title": "Category 2 hospitals", "labels": false, "ticks": false, "domain": false, "titleAngle": 0, "titleX": 96, "titleY": 17, "titleAlign": "left", "titleBaseline": "alphabetic", "titleFont": "Lato", "titleFontSize": 14.5, "titleFontWeight": "normal", "titleColor": "#111111"}}}},
    {"data": {"values": [{"h": 0}]}, "mark": {"type": "point", "opacity": 0},
     "encoding": {
      "y": {"field": "h", "type": "quantitative", "axis": {"orient": "right", "title": "(< 301-350 total beds)", "labels": false, "ticks": false, "domain": false, "titleAngle": 0, "titleX": -540, "titleY": 17, "titleAlign": "left", "titleBaseline": "alphabetic", "titleFont": "Lato", "titleFontSize": 14.5, "titleFontWeight": "normal", "titleFontStyle": "italic", "titleColor": "#111111"}}}}
   ],
   "resolve": {"scale": {"y": "independent"}}},
  {"spacing": 6, "hconcat": [
    {"width": 29, "height": 144, "data": {"values": [{}]}, "mark": {"type": "point", "opacity": 0}, "encoding": {}},
    {"width": 12, "height": 144, "view": {"fill": "#7f7f7f", "stroke": null}, "data": {"values": [{"v": 0}]}, "mark": {"type": "point", "opacity": 0},
     "encoding": {"y": {"field": "v", "type": "quantitative", "axis": {"orient": "left", "title": ["············· SC(base) (%)", "━━ ━ SC (actual) (%)"], "labels": false, "ticks": false, "domain": false, "titleAngle": 270, "titleAlign": "right", "titleBaseline": "top", "titleX": -35, "titleY": 22, "titleFont": "Lato", "titleFontSize": 11.5, "titleFontWeight": "normal", "titleColor": "#969696", "titleLineHeight": 16}}}},
    {"width": 561, "height": 140, "view": {"stroke": "#e4e4e4"},
     "layer": [
      {"data": {"name": "daily"}, "mark": {"type": "line", "color": "#a6d6e7", "strokeWidth": 1.3},
       "encoding": {
        "x": {"field": "d", "type": "temporal", "scale": {"type": "utc", "domain": [{"year": 2020, "month": 2, "date": 28, "utc": true}, {"year": 2021, "month": 1, "date": 2, "utc": true}]},
              "axis": {"title": null, "values": [{"year":2020,"month":3,"date":1,"utc":true},{"year":2020,"month":4,"date":1,"utc":true},{"year":2020,"month":5,"date":1,"utc":true},{"year":2020,"month":6,"date":1,"utc":true},{"year":2020,"month":7,"date":1,"utc":true},{"year":2020,"month":8,"date":1,"utc":true},{"year":2020,"month":9,"date":1,"utc":true},{"year":2020,"month":10,"date":1,"utc":true},{"year":2020,"month":11,"date":1,"utc":true},{"year":2020,"month":12,"date":1,"utc":true},{"year":2021,"month":1,"date":1,"utc":true}],
                       "labelExpr": "utcmonth(datum.value) == 0 || (utcmonth(datum.value) == 2 && utcyear(datum.value) == 2020) ? [utcFormat(datum.value, '%b'), utcFormat(datum.value, '%Y')] : utcFormat(datum.value, '%b')", "labelFontSize": 6.5, "labelLineHeight": 8, "labelPadding": 1}},
        "y": {"field": "n2", "type": "quantitative", "scale": {"domain": [0, 51.5], "nice": false}, "axis": {"orient": "right", "title": null, "values": [0, 10, 20, 30, 40, 50]}},
        "detail": {"field": "s", "type": "nominal"}}},
      {"data": {"name": "sc"}, "transform": [{"filter": "datum.p == 2"}, {"fold": ["a", "b"], "as": ["k", "v"]}],
       "mark": {"type": "line", "interpolate": "step-after", "strokeWidth": 1.4},
       "encoding": {
        "x": {"field": "d", "type": "temporal"},
        "y": {"field": "v", "type": "quantitative", "scale": {"domain": [0, 534], "nice": false}, "axis": {"orient": "left", "title": null, "values": [0, 100, 200, 300, 400, 500], "labelExpr": "datum.value + '%'"}},
        "strokeDash": {"field": "k", "type": "nominal", "scale": {"domain": ["a", "b"], "range": [[10, 4], [2, 2]]}, "legend": null},
        "color": {"field": "k", "type": "nominal", "scale": {"domain": ["a", "b"], "range": ["#6b6b6b", "#7a7a7a"]}, "legend": null},
        "detail": {"field": "s", "type": "nominal"}}}
     ],
     "resolve": {"scale": {"y": "independent"}}},
    {"width": 12, "height": 144, "view": {"fill": "#95bfcb", "stroke": null}, "data": {"values": [{"v": 0}]}, "mark": {"type": "point", "opacity": 0},
     "encoding": {"y": {"field": "v", "type": "quantitative", "axis": {"orient": "right", "title": ["━━━━━ Elective surgery", "procedures (n)"], "labels": false, "ticks": false, "domain": false, "titleAngle": 270, "titleAlign": "right", "titleBaseline": "top", "titleX": 12, "titleY": 30, "titleFont": "Lato", "titleFontSize": 10.8, "titleFontWeight": "normal", "titleColor": "#a6d2df", "titleLineHeight": 13}}}}
  ]}
]},
{"spacing": 0, "vconcat": [
  {"width": 770, "height": 23, "view": {"fill": "#f2f2f2", "stroke": null},
   "data": {"values": [{"h": 0}]}, "mark": {"type": "point", "opacity": 0},
   "encoding": {
      "x": {"field": "h", "type": "quantitative", "axis": {"orient": "top", "title": "5.3", "labels": false, "ticks": false, "domain": false, "titleX": 72, "titleY": 17, "titleAlign": "left", "titleBaseline": "alphabetic", "titleFont": "Lato", "titleFontSize": 14.5, "titleFontWeight": "bold", "titleColor": "#111111"}},
      "y": {"field": "h", "type": "quantitative", "axis": {"orient": "left", "title": "Category 3 hospitals (351-400 total beds)", "labels": false, "ticks": false, "domain": false, "titleAngle": 0, "titleX": 96, "titleY": 17, "titleAlign": "left", "titleBaseline": "alphabetic", "titleFont": "Lato", "titleFontSize": 14.5, "titleFontWeight": "normal", "titleColor": "#111111"}}}},
  {"spacing": 6, "hconcat": [
    {"width": 29, "height": 144, "data": {"values": [{}]}, "mark": {"type": "point", "opacity": 0}, "encoding": {}},
    {"width": 12, "height": 144, "view": {"fill": "#7f7f7f", "stroke": null}, "data": {"values": [{"v": 0}]}, "mark": {"type": "point", "opacity": 0},
     "encoding": {"y": {"field": "v", "type": "quantitative", "axis": {"orient": "left", "title": ["············· SC(base) (%)", "━━ ━ SC (actual) (%)"], "labels": false, "ticks": false, "domain": false, "titleAngle": 270, "titleAlign": "right", "titleBaseline": "top", "titleX": -35, "titleY": 22, "titleFont": "Lato", "titleFontSize": 11.5, "titleFontWeight": "normal", "titleColor": "#969696", "titleLineHeight": 16}}}},
    {"width": 561, "height": 140, "view": {"stroke": "#e4e4e4"},
     "layer": [
      {"data": {"name": "daily"}, "mark": {"type": "line", "color": "#a6d6e7", "strokeWidth": 1.3},
       "encoding": {
        "x": {"field": "d", "type": "temporal", "scale": {"type": "utc", "domain": [{"year": 2020, "month": 2, "date": 28, "utc": true}, {"year": 2021, "month": 1, "date": 2, "utc": true}]},
              "axis": {"title": null, "values": [{"year":2020,"month":3,"date":1,"utc":true},{"year":2020,"month":4,"date":1,"utc":true},{"year":2020,"month":5,"date":1,"utc":true},{"year":2020,"month":6,"date":1,"utc":true},{"year":2020,"month":7,"date":1,"utc":true},{"year":2020,"month":8,"date":1,"utc":true},{"year":2020,"month":9,"date":1,"utc":true},{"year":2020,"month":10,"date":1,"utc":true},{"year":2020,"month":11,"date":1,"utc":true},{"year":2020,"month":12,"date":1,"utc":true},{"year":2021,"month":1,"date":1,"utc":true}],
                       "labelExpr": "utcmonth(datum.value) == 0 || (utcmonth(datum.value) == 2 && utcyear(datum.value) == 2020) ? [utcFormat(datum.value, '%b'), utcFormat(datum.value, '%Y')] : utcFormat(datum.value, '%b')", "labelFontSize": 6.5, "labelLineHeight": 8, "labelPadding": 1}},
        "y": {"field": "n3", "type": "quantitative", "scale": {"domain": [0, 52.5], "nice": false}, "axis": {"orient": "right", "title": null, "values": [0, 10, 20, 30, 40, 50]}},
        "detail": {"field": "s", "type": "nominal"}}},
      {"data": {"name": "sc"}, "transform": [{"filter": "datum.p == 3"}, {"fold": ["a", "b"], "as": ["k", "v"]}],
       "mark": {"type": "line", "interpolate": "step-after", "strokeWidth": 1.4},
       "encoding": {
        "x": {"field": "d", "type": "temporal"},
        "y": {"field": "v", "type": "quantitative", "scale": {"domain": [0, 522], "nice": false}, "axis": {"orient": "left", "title": null, "values": [0, 100, 200, 300, 400, 500], "labelExpr": "datum.value + '%'"}},
        "strokeDash": {"field": "k", "type": "nominal", "scale": {"domain": ["a", "b"], "range": [[10, 4], [2, 2]]}, "legend": null},
        "color": {"field": "k", "type": "nominal", "scale": {"domain": ["a", "b"], "range": ["#6b6b6b", "#7a7a7a"]}, "legend": null},
        "detail": {"field": "s", "type": "nominal"}}}
     ],
     "resolve": {"scale": {"y": "independent"}}},
    {"width": 12, "height": 144, "view": {"fill": "#95bfcb", "stroke": null}, "data": {"values": [{"v": 0}]}, "mark": {"type": "point", "opacity": 0},
     "encoding": {"y": {"field": "v", "type": "quantitative", "axis": {"orient": "right", "title": ["━━━━━ Elective surgery", "procedures (n)"], "labels": false, "ticks": false, "domain": false, "titleAngle": 270, "titleAlign": "right", "titleBaseline": "top", "titleX": 12, "titleY": 30, "titleFont": "Lato", "titleFontSize": 10.8, "titleFontWeight": "normal", "titleColor": "#a6d2df", "titleLineHeight": 13}}}}
  ]}
]},
{"spacing": 0, "vconcat": [
  {"width": 770, "height": 23, "view": {"fill": "#f2f2f2", "stroke": null},
   "data": {"values": [{"h": 0}]}, "mark": {"type": "point", "opacity": 0},
   "encoding": {
      "x": {"field": "h", "type": "quantitative", "axis": {"orient": "top", "title": "5.4", "labels": false, "ticks": false, "domain": false, "titleX": 72, "titleY": 17, "titleAlign": "left", "titleBaseline": "alphabetic", "titleFont": "Lato", "titleFontSize": 14.5, "titleFontWeight": "bold", "titleColor": "#111111"}},
      "y": {"field": "h", "type": "quantitative", "axis": {"orient": "left", "title": "Category 4 hospitals (401-450 total beds)", "labels": false, "ticks": false, "domain": false, "titleAngle": 0, "titleX": 96, "titleY": 17, "titleAlign": "left", "titleBaseline": "alphabetic", "titleFont": "Lato", "titleFontSize": 14.5, "titleFontWeight": "normal", "titleColor": "#111111"}}}},
  {"spacing": 6, "hconcat": [
    {"width": 29, "height": 144, "data": {"values": [{}]}, "mark": {"type": "point", "opacity": 0}, "encoding": {}},
    {"width": 12, "height": 144, "view": {"fill": "#7f7f7f", "stroke": null}, "data": {"values": [{"v": 0}]}, "mark": {"type": "point", "opacity": 0},
     "encoding": {"y": {"field": "v", "type": "quantitative", "axis": {"orient": "left", "title": ["············· SC(base) (%)", "━━ ━ SC (actual) (%)"], "labels": false, "ticks": false, "domain": false, "titleAngle": 270, "titleAlign": "right", "titleBaseline": "top", "titleX": -35, "titleY": 22, "titleFont": "Lato", "titleFontSize": 11.5, "titleFontWeight": "normal", "titleColor": "#969696", "titleLineHeight": 16}}}},
    {"width": 561, "height": 140, "view": {"stroke": "#e4e4e4"},
     "layer": [
      {"data": {"name": "daily"}, "mark": {"type": "line", "color": "#a6d6e7", "strokeWidth": 1.3},
       "encoding": {
        "x": {"field": "d", "type": "temporal", "scale": {"type": "utc", "domain": [{"year": 2020, "month": 2, "date": 28, "utc": true}, {"year": 2021, "month": 1, "date": 2, "utc": true}]},
              "axis": {"title": null, "values": [{"year":2020,"month":3,"date":1,"utc":true},{"year":2020,"month":4,"date":1,"utc":true},{"year":2020,"month":5,"date":1,"utc":true},{"year":2020,"month":6,"date":1,"utc":true},{"year":2020,"month":7,"date":1,"utc":true},{"year":2020,"month":8,"date":1,"utc":true},{"year":2020,"month":9,"date":1,"utc":true},{"year":2020,"month":10,"date":1,"utc":true},{"year":2020,"month":11,"date":1,"utc":true},{"year":2020,"month":12,"date":1,"utc":true},{"year":2021,"month":1,"date":1,"utc":true}],
                       "labelExpr": "utcmonth(datum.value) == 0 || (utcmonth(datum.value) == 2 && utcyear(datum.value) == 2020) ? [utcFormat(datum.value, '%b'), utcFormat(datum.value, '%Y')] : utcFormat(datum.value, '%b')", "labelFontSize": 6.5, "labelLineHeight": 8, "labelPadding": 1}},
        "y": {"field": "n4", "type": "quantitative", "scale": {"domain": [0, 66.3], "nice": false}, "axis": {"orient": "right", "title": null, "values": [0, 20, 40, 60]}},
        "detail": {"field": "s", "type": "nominal"}}},
      {"data": {"name": "sc"}, "transform": [{"filter": "datum.p == 4"}, {"fold": ["a", "b"], "as": ["k", "v"]}],
       "mark": {"type": "line", "interpolate": "step-after", "strokeWidth": 1.4},
       "encoding": {
        "x": {"field": "d", "type": "temporal"},
        "y": {"field": "v", "type": "quantitative", "scale": {"domain": [0, 502], "nice": false}, "axis": {"orient": "left", "title": null, "values": [0, 100, 200, 300, 400, 500], "labelExpr": "datum.value + '%'"}},
        "strokeDash": {"field": "k", "type": "nominal", "scale": {"domain": ["a", "b"], "range": [[10, 4], [2, 2]]}, "legend": null},
        "color": {"field": "k", "type": "nominal", "scale": {"domain": ["a", "b"], "range": ["#6b6b6b", "#7a7a7a"]}, "legend": null},
        "detail": {"field": "s", "type": "nominal"}}}
     ],
     "resolve": {"scale": {"y": "independent"}}},
    {"width": 12, "height": 144, "view": {"fill": "#95bfcb", "stroke": null}, "data": {"values": [{"v": 0}]}, "mark": {"type": "point", "opacity": 0},
     "encoding": {"y": {"field": "v", "type": "quantitative", "axis": {"orient": "right", "title": ["━━━━━ Elective surgery", "procedures (n)"], "labels": false, "ticks": false, "domain": false, "titleAngle": 270, "titleAlign": "right", "titleBaseline": "top", "titleX": 12, "titleY": 30, "titleFont": "Lato", "titleFontSize": 10.8, "titleFontWeight": "normal", "titleColor": "#a6d2df", "titleLineHeight": 13}}}}
  ]}
]},
{"spacing": 0, "vconcat": [
  {"width": 770, "height": 23, "view": {"fill": "#f2f2f2", "stroke": null},
   "data": {"values": [{"h": 0}]}, "mark": {"type": "point", "opacity": 0},
   "encoding": {
      "x": {"field": "h", "type": "quantitative", "axis": {"orient": "top", "title": "5.5", "labels": false, "ticks": false, "domain": false, "titleX": 72, "titleY": 17, "titleAlign": "left", "titleBaseline": "alphabetic", "titleFont": "Lato", "titleFontSize": 14.5, "titleFontWeight": "bold", "titleColor": "#111111"}},
      "y": {"field": "h", "type": "quantitative", "axis": {"orient": "left", "title": "Category 5 hospitals (>451 pl total beds)", "labels": false, "ticks": false, "domain": false, "titleAngle": 0, "titleX": 96, "titleY": 17, "titleAlign": "left", "titleBaseline": "alphabetic", "titleFont": "Lato", "titleFontSize": 14.5, "titleFontWeight": "normal", "titleColor": "#111111"}}}},
  {"spacing": 6, "hconcat": [
    {"width": 29, "height": 144, "data": {"values": [{}]}, "mark": {"type": "point", "opacity": 0}, "encoding": {}},
    {"width": 12, "height": 144, "view": {"fill": "#7f7f7f", "stroke": null}, "data": {"values": [{"v": 0}]}, "mark": {"type": "point", "opacity": 0},
     "encoding": {"y": {"field": "v", "type": "quantitative", "axis": {"orient": "left", "title": ["············· SC(base) (%)", "━━ ━ SC (actual) (%)"], "labels": false, "ticks": false, "domain": false, "titleAngle": 270, "titleAlign": "right", "titleBaseline": "top", "titleX": -35, "titleY": 22, "titleFont": "Lato", "titleFontSize": 11.5, "titleFontWeight": "normal", "titleColor": "#969696", "titleLineHeight": 16}}}},
    {"width": 561, "height": 140, "view": {"stroke": "#e4e4e4"},
     "layer": [
      {"data": {"name": "daily"}, "mark": {"type": "line", "color": "#a6d6e7", "strokeWidth": 1.3},
       "encoding": {
        "x": {"field": "d", "type": "temporal", "scale": {"type": "utc", "domain": [{"year": 2020, "month": 2, "date": 28, "utc": true}, {"year": 2021, "month": 1, "date": 2, "utc": true}]},
              "axis": {"title": null, "values": [{"year":2020,"month":3,"date":1,"utc":true},{"year":2020,"month":4,"date":1,"utc":true},{"year":2020,"month":5,"date":1,"utc":true},{"year":2020,"month":6,"date":1,"utc":true},{"year":2020,"month":7,"date":1,"utc":true},{"year":2020,"month":8,"date":1,"utc":true},{"year":2020,"month":9,"date":1,"utc":true},{"year":2020,"month":10,"date":1,"utc":true},{"year":2020,"month":11,"date":1,"utc":true},{"year":2020,"month":12,"date":1,"utc":true},{"year":2021,"month":1,"date":1,"utc":true}],
                       "labelExpr": "utcmonth(datum.value) == 0 || (utcmonth(datum.value) == 2 && utcyear(datum.value) == 2020) ? [utcFormat(datum.value, '%b'), utcFormat(datum.value, '%Y')] : utcFormat(datum.value, '%b')", "labelFontSize": 6.5, "labelLineHeight": 8, "labelPadding": 1}},
        "y": {"field": "n5", "type": "quantitative", "scale": {"domain": [-1, 252], "nice": false, "zero": false}, "axis": {"orient": "right", "title": null, "values": [0, 50, 100, 150, 200, 250], "tickSize": 2, "labelPadding": 0}},
        "detail": {"field": "s", "type": "nominal"}}},
      {"data": {"name": "sc"}, "transform": [{"filter": "datum.p == 5"}, {"fold": ["a", "b"], "as": ["k", "v"]}],
       "mark": {"type": "line", "interpolate": "step-after", "strokeWidth": 1.4},
       "encoding": {
        "x": {"field": "d", "type": "temporal"},
        "y": {"field": "v", "type": "quantitative", "scale": {"domain": [27, 208], "nice": false, "zero": false}, "axis": {"orient": "left", "title": null, "values": [50, 100, 150, 200], "labelExpr": "datum.value + '%'"}},
        "strokeDash": {"field": "k", "type": "nominal", "scale": {"domain": ["a", "b"], "range": [[10, 4], [2, 2]]}, "legend": null},
        "color": {"field": "k", "type": "nominal", "scale": {"domain": ["a", "b"], "range": ["#6b6b6b", "#7a7a7a"]}, "legend": null},
        "detail": {"field": "s", "type": "nominal"}}}
     ],
     "resolve": {"scale": {"y": "independent"}}},
    {"width": 12, "height": 144, "view": {"fill": "#95bfcb", "stroke": null}, "data": {"values": [{"v": 0}]}, "mark": {"type": "point", "opacity": 0},
     "encoding": {"y": {"field": "v", "type": "quantitative", "axis": {"orient": "right", "title": ["━━━━━ Elective surgery", "procedures (n)"], "labels": false, "ticks": false, "domain": false, "titleAngle": 270, "titleAlign": "right", "titleBaseline": "top", "titleX": 12, "titleY": 30, "titleFont": "Lato", "titleFontSize": 10.8, "titleFontWeight": "normal", "titleColor": "#a6d2df", "titleLineHeight": 13}}}}
  ]}
]},
{"spacing": 0, "vconcat": [
  {"width": 770, "height": 23, "view": {"fill": "#f2f2f2", "stroke": null},
   "layer": [
    {"data": {"values": [{"h": 0}]}, "mark": {"type": "point", "opacity": 0},
     "encoding": {
      "x": {"field": "h", "type": "quantitative", "axis": {"orient": "top", "title": "5.6", "labels": false, "ticks": false, "domain": false, "titleX": 72, "titleY": 17, "titleAlign": "left", "titleBaseline": "alphabetic", "titleFont": "Lato", "titleFontSize": 14.5, "titleFontWeight": "bold", "titleColor": "#111111"}},
      "y": {"field": "h", "type": "quantitative", "axis": {"orient": "left", "title": "Multi-H", "labels": false, "ticks": false, "domain": false, "titleAngle": 0, "titleX": 96, "titleY": 17, "titleAlign": "left", "titleBaseline": "alphabetic", "titleFont": "Lato", "titleFontSize": 14.5, "titleFontWeight": "normal", "titleColor": "#111111"}}}},
    {"data": {"values": [{"h": 0}]}, "mark": {"type": "point", "opacity": 0},
     "encoding": {
      "y": {"field": "h", "type": "quantitative", "axis": {"orient": "right", "title": "(all hospitals)", "labels": false, "ticks": false, "domain": false, "titleAngle": 0, "titleX": -620, "titleY": 17, "titleAlign": "left", "titleBaseline": "alphabetic", "titleFont": "Lato", "titleFontSize": 14.5, "titleFontWeight": "normal", "titleFontStyle": "italic", "titleColor": "#111111"}}}}
   ],
   "resolve": {"scale": {"y": "independent"}}},
  {"spacing": 6, "hconcat": [
    {"width": 29, "height": 144, "data": {"values": [{}]}, "mark": {"type": "point", "opacity": 0}, "encoding": {}},
    {"width": 12, "height": 144, "view": {"fill": "#7f7f7f", "stroke": null}, "data": {"values": [{"v": 0}]}, "mark": {"type": "point", "opacity": 0},
     "encoding": {"y": {"field": "v", "type": "quantitative", "axis": {"orient": "left", "title": ["············· SC(base) (%)", "━━ ━ SC (actual) (%)"], "labels": false, "ticks": false, "domain": false, "titleAngle": 270, "titleAlign": "right", "titleBaseline": "top", "titleX": -35, "titleY": 22, "titleFont": "Lato", "titleFontSize": 11.5, "titleFontWeight": "normal", "titleColor": "#969696", "titleLineHeight": 16}}}},
    {"width": 561, "height": 140, "view": {"stroke": "#e4e4e4"},
     "layer": [
      {"data": {"name": "daily"}, "mark": {"type": "line", "color": "#a6d6e7", "strokeWidth": 1.3},
       "encoding": {
        "x": {"field": "d", "type": "temporal", "scale": {"type": "utc", "domain": [{"year": 2020, "month": 2, "date": 28, "utc": true}, {"year": 2021, "month": 1, "date": 2, "utc": true}]},
              "axis": {"title": null, "values": [{"year":2020,"month":3,"date":1,"utc":true},{"year":2020,"month":4,"date":1,"utc":true},{"year":2020,"month":5,"date":1,"utc":true},{"year":2020,"month":6,"date":1,"utc":true},{"year":2020,"month":7,"date":1,"utc":true},{"year":2020,"month":8,"date":1,"utc":true},{"year":2020,"month":9,"date":1,"utc":true},{"year":2020,"month":10,"date":1,"utc":true},{"year":2020,"month":11,"date":1,"utc":true},{"year":2020,"month":12,"date":1,"utc":true},{"year":2021,"month":1,"date":1,"utc":true}],
                       "labelExpr": "utcmonth(datum.value) == 0 || (utcmonth(datum.value) == 2 && utcyear(datum.value) == 2020) ? [utcFormat(datum.value, '%b'), utcFormat(datum.value, '%Y')] : utcFormat(datum.value, '%b')", "labelFontSize": 6.5, "labelLineHeight": 8, "labelPadding": 1}},
        "y": {"field": "n6", "type": "quantitative", "scale": {"domain": [0, 90], "nice": false}, "axis": {"orient": "right", "title": null, "values": [0, 20, 40, 60, 80]}},
        "detail": {"field": "s", "type": "nominal"}}},
      {"data": {"name": "sc"}, "transform": [{"filter": "datum.p == 6"}, {"fold": ["a", "b"], "as": ["k", "v"]}],
       "mark": {"type": "line", "interpolate": "step-after", "strokeWidth": 1.4},
       "encoding": {
        "x": {"field": "d", "type": "temporal"},
        "y": {"field": "v", "type": "quantitative", "scale": {"domain": [0, 329], "nice": false}, "axis": {"orient": "left", "title": null, "values": [0, 100, 200, 300], "labelExpr": "datum.value + '%'"}},
        "strokeDash": {"field": "k", "type": "nominal", "scale": {"domain": ["a", "b"], "range": [[10, 4], [2, 2]]}, "legend": null},
        "color": {"field": "k", "type": "nominal", "scale": {"domain": ["a", "b"], "range": ["#6b6b6b", "#7a7a7a"]}, "legend": null},
        "detail": {"field": "s", "type": "nominal"}}}
     ],
     "resolve": {"scale": {"y": "independent"}}},
    {"width": 12, "height": 144, "view": {"fill": "#95bfcb", "stroke": null}, "data": {"values": [{"v": 0}]}, "mark": {"type": "point", "opacity": 0},
     "encoding": {"y": {"field": "v", "type": "quantitative", "axis": {"orient": "right", "title": ["━━━━━ Elective surgery", "procedures (n)"], "labels": false, "ticks": false, "domain": false, "titleAngle": 270, "titleAlign": "right", "titleBaseline": "top", "titleX": 12, "titleY": 30, "titleFont": "Lato", "titleFontSize": 10.8, "titleFontWeight": "normal", "titleColor": "#a6d2df", "titleLineHeight": 13}}}}
  ]}
]}
]
}
